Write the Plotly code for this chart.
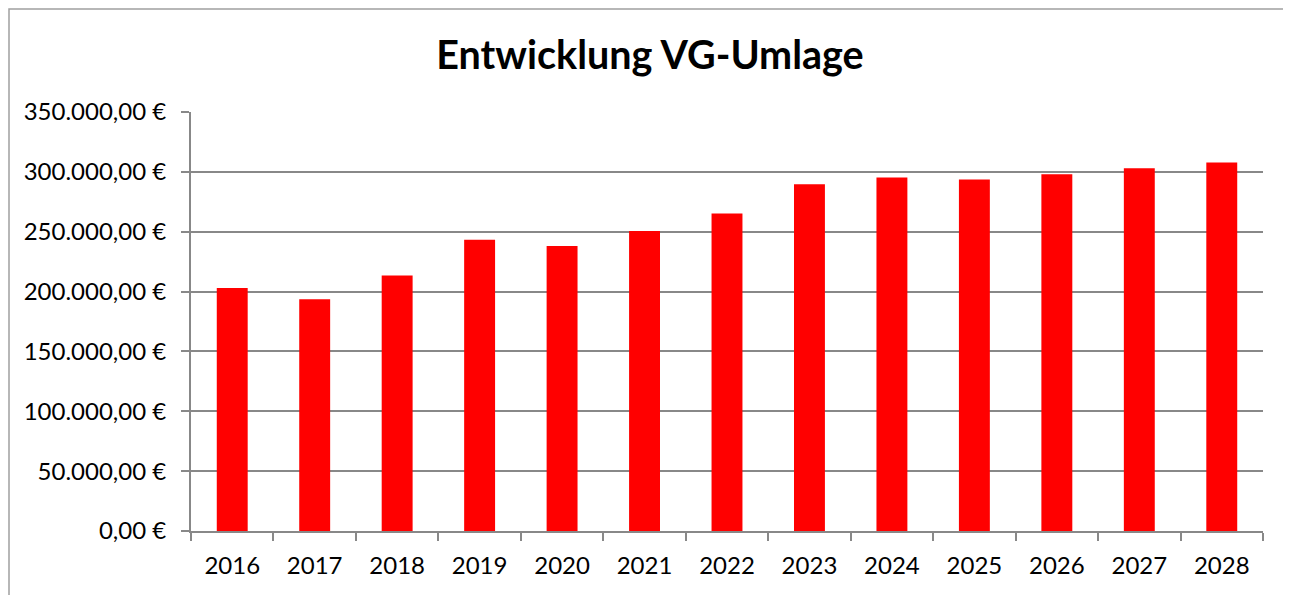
import plotly.graph_objects as go

years = ["2016", "2017", "2018", "2019", "2020", "2021", "2022",
         "2023", "2024", "2025", "2026", "2027", "2028"]
values = [203000, 193500, 213500, 243300, 238000, 250500, 265300,
          289700, 295300, 293600, 298100, 303100, 307800]
tick_vals = [0, 50000, 100000, 150000, 200000, 250000, 300000, 350000]
tick_text = ["0,00 €", "50.000,00 €", "100.000,00 €", "150.000,00 €",
             "200.000,00 €", "250.000,00 €", "300.000,00 €", "350.000,00 €"]

W, H = 1291, 595
OFF = 8  # page body margin
L, T = 191 - OFF, 112 - OFF
pw, ph = 1072, 419
R, B = W - L - pw, H - T - ph

def px(x):
    return (x - L) / pw

def py(y):
    return (T + ph - y) / ph

fig = go.Figure(go.Bar(x=years, y=values, marker=dict(color="#FF0000", line=dict(width=0))))

fig.update_layout(
    width=W, height=H,
    margin=dict(l=L, r=R, t=T, b=B),
    paper_bgcolor="white", plot_bgcolor="white",
    bargap=0.625,
    showlegend=False,
    font=dict(family="Lato", color="black", size=24),
    title=dict(text="<b>Entwicklung VG-Umlage</b>", x=(650 - OFF) / W, xanchor="center",
               y=1 - (55 - OFF) / H, yanchor="middle", yref="container",
               font=dict(family="Lato", size=39.5, color="black")),
    xaxis=dict(showline=True, linecolor="#888888", linewidth=2,
               ticks="outside", tickson="boundaries", ticklen=8,
               tickcolor="#888888", tickwidth=2, showgrid=False,
               ticklabelstandoff=12, tickfont=dict(size=24)),
    yaxis=dict(range=[0, 350000], tickvals=tick_vals, ticktext=tick_text,
               showline=True, linecolor="#888888", linewidth=2,
               ticks="outside", ticklen=8, tickcolor="#888888", tickwidth=2,
               showgrid=True, gridcolor="#888888", gridwidth=2,
               ticklabelstandoff=10,
               zeroline=False, tickfont=dict(size=24)),
    shapes=[dict(type="rect", xref="paper", yref="paper",
                 x0=px(1), x1=px(1284 - OFF), y0=py(H + 20), y1=py(1),
                 line=dict(color="#A0A0A0", width=1.5), fillcolor="rgba(0,0,0,0)",
                 layer="below")],
)

fig.write_html("out.html")
